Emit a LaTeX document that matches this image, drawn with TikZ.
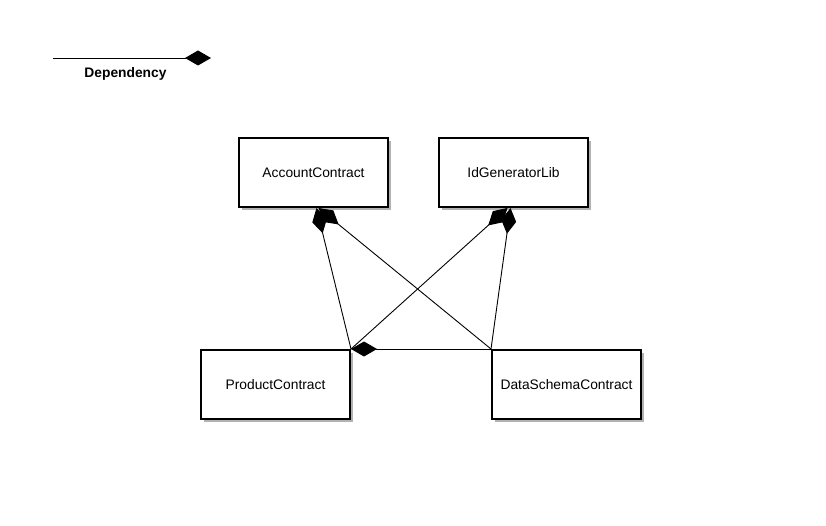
\documentclass[tikz,border=0pt]{standalone}
\usepackage{fontspec}
\setmainfont{Liberation Sans}
\usetikzlibrary{arrows.meta,shadows}
\tikzset{
  box/.style={draw=black, line width=2pt, fill=white, minimum width=149pt, minimum height=69pt,
    inner sep=0pt, font=\fontsize{13.8}{16}\selectfont,
    general shadow={fill=black!30, shadow xshift=3pt, shadow yshift=-3pt}},
  dep/.style={draw=black, line width=0.9pt, -{Diamond[length=26pt,width=15pt,fill=black]}},
  lbl/.style={font=\fontsize{13.8}{16}\selectfont\bfseries, inner sep=0pt}
}
\begin{document}
\begin{tikzpicture}[x=1pt,y=-1pt]
\useasboundingbox (0,0) rectangle (826,526);
% legend
\coordinate (legA) at (53,58);
\coordinate (legB) at (211,58);
\draw[dep] (legA) -- (legB);
\node[lbl] (legtxt) at (125.5,73.5) {Dependency};
% boxes
\node[box] (acc) at (313.5,172.5) {AccountContract};
\node[box] (idg) at (513.5,172.5) {IdGeneratorLib};
\node[box] (prod) at (275.5,384.5) {ProductContract};
\node[box] (data) at (566.5,384.5) {DataSchemaContract};
% dependencies
\draw[dep] (prod.north east) -- ([xshift=3pt]acc.south);
\draw[dep] (data.north west) -- ([xshift=5pt]acc.south);
\draw[dep] (prod.north east) -- ([xshift=-6pt]idg.south);
\draw[dep] (data.north west) -- ([xshift=-3pt]idg.south);
\draw[dep] (data.north west) -- (prod.north east);
\end{tikzpicture}
\end{document}
